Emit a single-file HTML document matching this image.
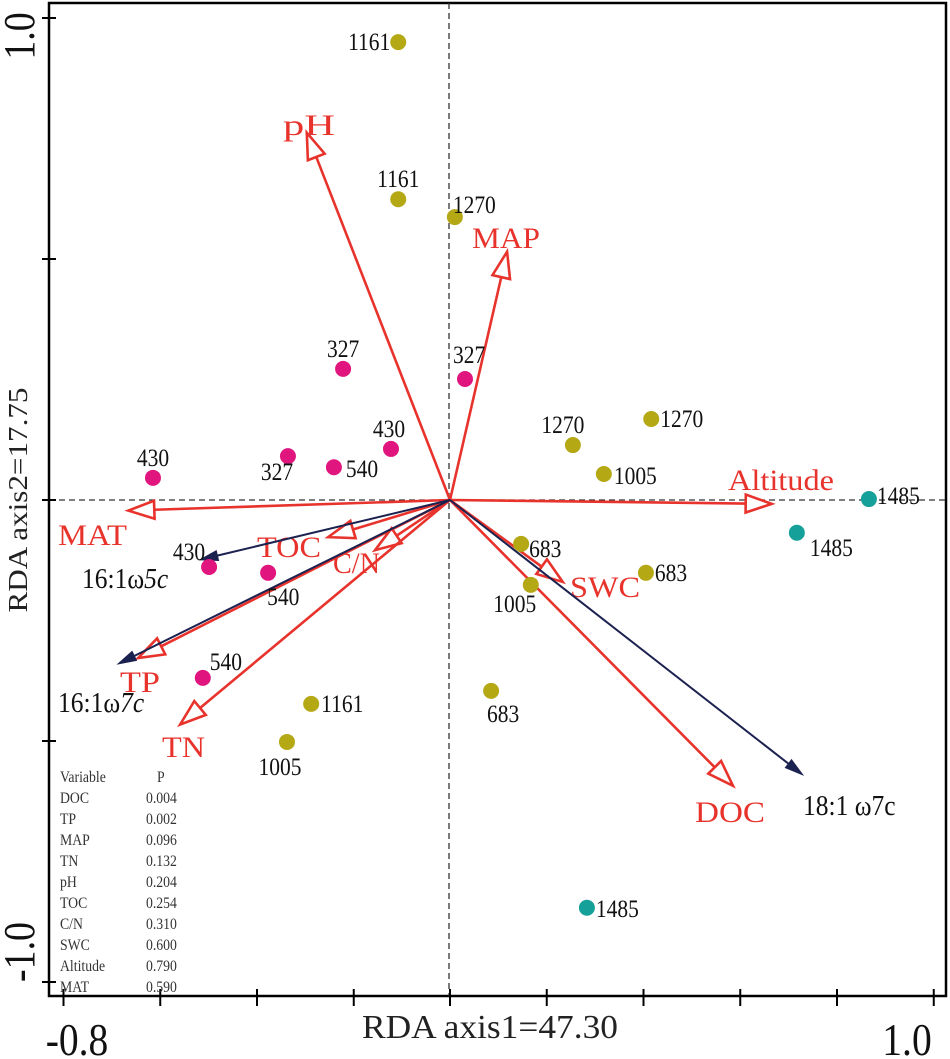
<!DOCTYPE html>
<html><head><meta charset="utf-8"><style>
html,body{margin:0;padding:0;background:#fff;}
svg{display:block;font-family:"Liberation Serif",serif;}
</style></head><body>
<svg id="chart" width="950" height="1059" viewBox="0 0 950 1059">
<g id="frame"></g>
<g id="marks"></g>
</svg>
<script>
const xTicks=[-0.8,-0.6,-0.4,-0.2,0,0.2,0.4,0.6,0.8,1.0];
const yTicks=[1.0,0.5,0,-0.5,-1.0];
const siteLabels=["1161","1161","1270","1270","1270","1005","683","1005","683","683","1161","1005","327","327","430","327","540","430","430","540","540","1485","1485","1485"];
const siteX=[-0.107,-0.107,0.010,0.254,0.416,0.318,0.147,0.167,0.405,0.085,-0.287,-0.337,-0.221,0.031,-0.122,-0.335,-0.240,-0.614,-0.498,-0.376,-0.511,0.866,0.717,0.283];
const siteY=[0.950,0.624,0.587,0.114,0.168,0.054,-0.091,-0.176,-0.151,-0.396,-0.423,-0.502,0.272,0.251,0.106,0.091,0.068,0.046,-0.139,-0.151,-0.369,0.002,-0.068,-0.846];
const siteGroup=["o","o","o","o","o","o","o","o","o","o","o","o","m","m","m","m","m","m","m","m","m","t","t","t"];
const envNames=["pH","MAP","Altitude","MAT","TOC","C/N","TP","TN","SWC","DOC"];
const envX=[-0.296,0.118,0.665,-0.665,-0.252,-0.155,-0.645,-0.558,0.233,0.585];
const envY=[0.762,0.515,-0.008,-0.022,-0.077,-0.104,-0.328,-0.466,-0.170,-0.593];
const plfaNames=["16:1ω5c","16:1ω7c","18:1 ω7c"];
const plfaX=[-0.517,-0.686,0.729];
const plfaY=[-0.124,-0.340,-0.570];
const tableVars=["DOC","TP","MAP","TN","pH","TOC","C/N","SWC","Altitude","MAT"];
const tableP=["0.004","0.002","0.096","0.132","0.204","0.254","0.310","0.600","0.790","0.590"];

const NS="http://www.w3.org/2000/svg";
const sx=v=>450+v*483.75, sy=v=>500-v*482;
function mk(tag,attrs,parent){const e=document.createElementNS(NS,tag);for(const k in attrs)e.setAttribute(k,attrs[k]);parent.appendChild(e);return e;}
const F=document.getElementById('frame'), M=document.getElementById('marks');

let e=mk('rect',{x:49,y:3,width:897,height:993,fill:'none',stroke:'#000','stroke-width':2.5},F);


e=mk('line',{x1:449,y1:3,x2:449,y2:996,stroke:'#333','stroke-width':1.3,'stroke-dasharray':'6,4'},F);


e=mk('line',{x1:49,y1:500,x2:946,y2:500,stroke:'#333','stroke-width':1.3,'stroke-dasharray':'6,4'},F);


xTicks.forEach(t=>{const x=sx(t)+(t<0?0.5:0);
 e=mk('line',{x1:x,y1:989,x2:x,y2:1006,stroke:'#000','stroke-width':2},F);
 
 });
yTicks.forEach(t=>{const y=sy(t);
 e=mk('line',{x1:42,y1:y,x2:56,y2:y,stroke:'#000','stroke-width':2},F);
 
 });
function txt(s,attrs,parent,name){const t=mk('text',attrs,parent);t.textContent=s;return t;}
function ctxt(s,x,y,size,fill,anchor,parent,name){
 const t=txt(s,{x:0,y:0,'font-size':size,fill,'text-anchor':anchor,transform:`translate(${x},${y}) scale(0.86,1)`},parent,name);return t;}
ctxt("-0.8",77,1055,46,'#111','middle',F,'x-tick-label-min');
ctxt("1.0",907,1055,46,'#111','middle',F,'x-tick-label-max');
txt("RDA axis1=47.30",{x:490,y:1038,'font-size':34,'text-anchor':'middle',fill:'#222',textLength:256,lengthAdjust:'spacingAndGlyphs'},F,'x-axis-title');
txt("RDA axis2=17.75",{x:0,y:0,'font-size':27,'text-anchor':'middle',fill:'#222',textLength:225,lengthAdjust:'spacingAndGlyphs',transform:'translate(27,500) rotate(-90)'},F,'y-axis-title');
txt("1.0",{x:0,y:0,'font-size':44,'text-anchor':'middle',fill:'#111',transform:'translate(34,36) rotate(-90) scale(0.86,1)'},F,'y-tick-label-max');
txt("-1.0",{x:0,y:0,'font-size':44,'text-anchor':'middle',fill:'#111',transform:'translate(34,952) rotate(-90) scale(0.86,1)'},F,'y-tick-label-min');

const envLab=[[283,135,'start'],[472,248,'start'],[728,490,'start'],[58,545,'start'],[257,557,'start'],[333,573,'start'],[120,692,'start'],[162,757,'start'],[570,597,'start'],[695,822,'start']];
function arrow(x2,y2,col,open,len,w,parent,name){
 const x1=450,y1=500,dx=x2-x1,dy=y2-y1,L=Math.hypot(dx,dy),ux=dx/L,uy=dy/L,bx=x2-ux*len,by=y2-uy*len,px=-uy*w/2,py=ux*w/2;
 const g=mk('g',{},parent);
 mk('line',{x1,y1,x2:open?bx:x2-ux*len*0.6,y2:open?by:y2-uy*len*0.6,stroke:col,'stroke-width':open?2.6:2},g);
 mk('polygon',{points:`${x2},${y2} ${bx+px},${by+py} ${bx-px},${by-py}`,fill:open?'#fff':col,stroke:col,'stroke-width':open?2.6:1,'stroke-linejoin':'miter'},g);
 return g;}
envNames.forEach((n,i)=>{
 arrow(sx(envX[i]),sy(envY[i]),'#e8332c',true,26,18,M,'arrow-'+n.toLowerCase().replace('/',''));
 const w={pH:52,MAP:68,Altitude:106,MAT:69,TOC:64,'C/N':47,TP:40,TN:43,SWC:70,DOC:70}[n];
 txt(n,{x:envLab[i][0],y:envLab[i][1],'font-size':30,fill:'#e8332c',textLength:w,lengthAdjust:'spacingAndGlyphs'},M,'label-'+n.toLowerCase().replace('/',''));
});
const plfaLab=[[82,588],[58,712],[803,815]];
plfaNames.forEach((n,i)=>{
 arrow(sx(plfaX[i]),sy(plfaY[i]),'#1c2250',false,18,10,M,'arrow-plfa-'+i);
 const t=txt('',{x:0,y:0,'font-size':29,fill:'#111',transform:`translate(${plfaLab[i][0]},${plfaLab[i][1]}) scale(0.88,1)`},M,'label-plfa-'+i);
 if(i<2){t.textContent=n.slice(0,-2);const ts=mk('tspan',{'font-style':'italic'},t);ts.textContent=n.slice(-2);}
 else t.textContent=n;
});
const colors={o:'#b5a815',m:'#e0157e',t:'#15a099'};
const labOff=[[-8,8,'end'],[0,-12,'middle'],[-2,-4,'start'],[-10,-12,'middle'],[9,8,'start'],[10,10,'start'],[8,13,'start'],[-16,27,'middle'],[9,8,'start'],[12,31,'middle'],[10,8,'start'],[-7,33,'middle'],[0,-12,'middle'],[-12,-16,'start'],[-2,-12,'middle'],[-11,24,'middle'],[12,10,'start'],[0,-12,'middle'],[-4,-7,'end'],[-1,32,'start'],[7,-8,'start'],[8,5,'start'],[13,23,'start'],[9,9,'start']];
siteLabels.forEach((l,i)=>{
 const cx=sx(siteX[i]),cy=sy(siteY[i]);
 const c=mk('circle',{cx,cy,r:8,fill:colors[siteGroup[i]]},M);
 
 
 ctxt(l,cx+labOff[i][0],cy+labOff[i][1],25,'#111',labOff[i][2],M,'site-label-'+l);
});
ctxt("Variable",60,782,16,'#333','start',M,'table-header-variable');
ctxt("P",157,782,16,'#333','start',M,'table-header-p');
tableVars.forEach((v,i)=>{
 const y=782+21*(i+1);
 ctxt(v,60,y,16,'#333','start',M,'table-var-'+v.toLowerCase().replace('/',''));
 ctxt(tableP[i],146,y,16,'#333','start',M,'table-p-'+v.toLowerCase().replace('/',''));
});
</script>
</body></html>
